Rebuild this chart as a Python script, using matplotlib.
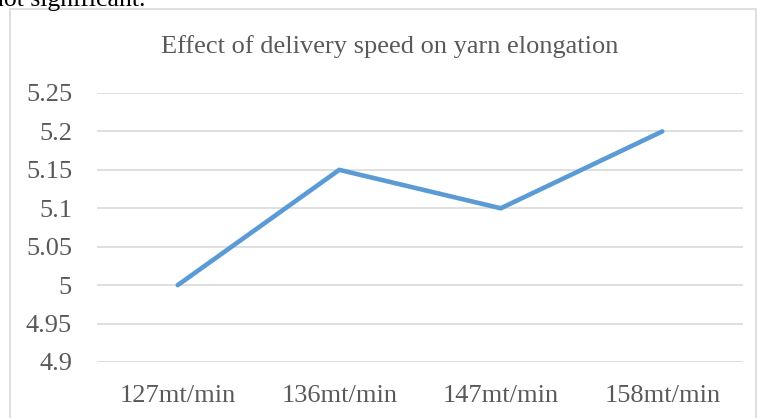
import matplotlib
matplotlib.use("Agg")
import matplotlib.pyplot as plt
from matplotlib.patches import Rectangle

categories = ["127mt/min", "136mt/min", "147mt/min", "158mt/min"]
elongation = [5.0, 5.15, 5.1, 5.2]
yticks = [4.9, 4.95, 5.0, 5.05, 5.1, 5.15, 5.2, 5.25]
ytick_labels = ["4.9", "4.95", "5", "5.05", "5.1", "5.15", "5.2", "5.25"]
title = "Effect of delivery speed on yarn elongation"

plt.rcParams['font.family'] = ['Liberation Serif', 'DejaVu Serif']
W, H = 758, 418
fig = plt.figure(figsize=(W/100, H/100), dpi=100)

# chart border
fig.add_artist(Rectangle((10/W, -0.05), (756-10)/W, 1.05 - 9/H, transform=fig.transFigure,
                         facecolor='none', edgecolor='#D9D9D9', linewidth=1.2))
# cropped document text above chart
fig.text(-0.012, 1 - 6/H, "not significant.", fontsize=18.5, color='black', va='baseline', ha='left')

ax = fig.add_axes([97/W, 1 - 362/H, (743-97)/W, (362-93)/H])
x = list(range(len(categories)))
ax.plot(x, elongation, color='#5B9BD5', linewidth=3.3, solid_capstyle='round', solid_joinstyle='round')
ax.set_xlim(-0.5, len(categories) - 0.5)
ax.set_ylim(4.9, 5.25)
ax.set_yticks(yticks)
ax.set_yticklabels(ytick_labels)
ax.set_xticks(x)
ax.set_xticklabels(categories)
ax.grid(axis='y', color='#D9D9D9', linewidth=1.2)
ax.set_axisbelow(True)
for s in ax.spines.values():
    s.set_visible(False)
ax.tick_params(axis='both', length=0, labelsize=19, colors='#595959')
ax.tick_params(axis='y', pad=18)
ax.tick_params(axis='x', pad=16.5)
fig.text(390/W, 1 - 47/H, title, fontsize=19, color='#595959', ha='center', va='center')

fig.savefig("out.png", dpi=100)
